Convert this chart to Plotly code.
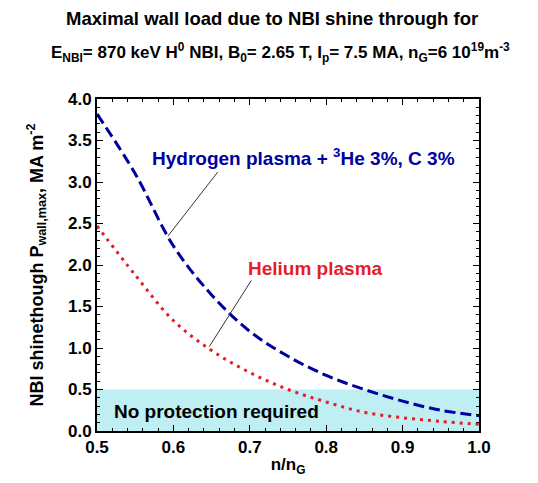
import plotly.graph_objects as go

x_vals = [0.50, 0.55, 0.60, 0.65, 0.70, 0.75, 0.80, 0.85, 0.90, 0.95, 1.00]
hydrogen = [3.82, 3.10, 2.23, 1.64, 1.20, 0.90, 0.67, 0.50, 0.36, 0.25, 0.185]
helium = [2.47, 1.88, 1.33, 0.97, 0.705, 0.50, 0.35, 0.225, 0.16, 0.115, 0.08]

x_ticks = [0.5, 0.6, 0.7, 0.8, 0.9, 1.0]
y_ticks = [0.0, 0.5, 1.0, 1.5, 2.0, 2.5, 3.0, 3.5, 4.0]

FONT = "Liberation Sans"
BLUE = "#0000a0"
RED = "#e41e26"

# figure is drawn with an 8px page offset, so sizes are reduced accordingly
W, H = 530, 475
L, T, R, B = 89, 91, 59, 50
PW, PH = W - L - R, H - T - B

fig = go.Figure()
fig.add_trace(go.Scatter(x=x_vals, y=hydrogen, mode="lines",
                         line=dict(color=BLUE, width=3, dash="11px,5px", shape="spline"),
                         showlegend=False))
fig.add_trace(go.Scatter(x=x_vals, y=helium, mode="lines",
                         line=dict(color=RED, width=3, dash="3px,5px", shape="spline"), showlegend=False))

fig.add_shape(type="rect", xref="x", yref="y", x0=0.5, x1=1.0, y0=0, y1=0.5,
              fillcolor="#bfeef3", line=dict(width=0), layer="below")
fig.add_shape(type="line", xref="x", yref="y", x0=0.658, y0=3.12, x1=0.593, y1=2.35,
              line=dict(color="#333333", width=1))
fig.add_shape(type="line", xref="x", yref="y", x0=0.702, y0=1.815, x1=0.647, y1=1.017,
              line=dict(color="#333333", width=1))


def paper_x(px):
    return (px - 8 - L) / PW


def paper_y(py):
    return 1 + (T - (py - 8)) / PH


annos = [
    dict(x=0.569, y=3.3, xref="x", yref="y", xanchor="left", yanchor="middle", showarrow=False,
         text="Hydrogen plasma + <sup>3</sup>He 3%, C 3%",
         font=dict(family=FONT, size=19, color=BLUE, weight="bold")),
    dict(x=0.695, y=1.96, xref="x", yref="y", xanchor="left", yanchor="middle", showarrow=False,
         text="Helium plasma", font=dict(family=FONT, size=19, color=RED, weight="bold")),
    dict(x=0.5196, y=0.24, xref="x", yref="y", xanchor="left", yanchor="middle", showarrow=False,
         text="No protection required", font=dict(family=FONT, size=19, color="black", weight="bold")),
    dict(x=paper_x(272), y=paper_y(18), xref="paper", yref="paper", xanchor="center", yanchor="middle",
         showarrow=False, text="Maximal wall load due to NBI shine through for",
         font=dict(family=FONT, size=18.5, color="black", weight="bold")),
    dict(x=paper_x(280), y=paper_y(52), xref="paper", yref="paper", xanchor="center", yanchor="middle",
         showarrow=False,
         text="E<sub>NBI</sub>= 870 keV H<sup>0</sup> NBI, B<sub>0</sub>= 2.65 T, I<sub>p</sub>= 7.5 MA, "
              "n<sub>G</sub>=6 10<sup>19</sup>m<sup>-3</sup>",
         font=dict(family=FONT, size=17, color="black", weight="bold")),
]

fig.update_layout(
    annotations=annos,
    width=W, height=H,
    margin=dict(l=L, r=R, t=T, b=B),
    paper_bgcolor="white", plot_bgcolor="white",
    font=dict(family=FONT, size=15, color="black", weight="bold"),
    xaxis=dict(range=[0.5, 1.0], tickvals=x_ticks, ticktext=[f"{v:.1f}" for v in x_ticks],
               ticks="inside", ticklen=6, tickwidth=1, tickcolor="black",
               minor=dict(dtick=0.02, ticks="inside", ticklen=3, tickcolor="black"),
               showline=True, linewidth=2, linecolor="black", mirror="allticks", showgrid=False,
               zeroline=False,
               title=dict(text="n/n<sub>G</sub>", font=dict(family=FONT, size=17, weight="bold"), standoff=2),
               tickfont=dict(family=FONT, size=17, weight="bold")),
    yaxis=dict(range=[0, 4.0], tickvals=y_ticks, ticktext=[f"{v:.1f}" for v in y_ticks],
               ticks="inside", ticklen=6, tickwidth=1, tickcolor="black",
               minor=dict(dtick=0.1, ticks="inside", ticklen=3, tickcolor="black"),
               showline=True, linewidth=2, linecolor="black", mirror="allticks", showgrid=False,
               zeroline=False,
               title=dict(text="NBI shinethough P<sub>wall,max</sub>, MA m<sup>-2</sup>",
                          font=dict(family=FONT, size=18, weight="bold"), standoff=20),
               tickfont=dict(family=FONT, size=17, weight="bold")),
)

fig.write_html("out.html")
